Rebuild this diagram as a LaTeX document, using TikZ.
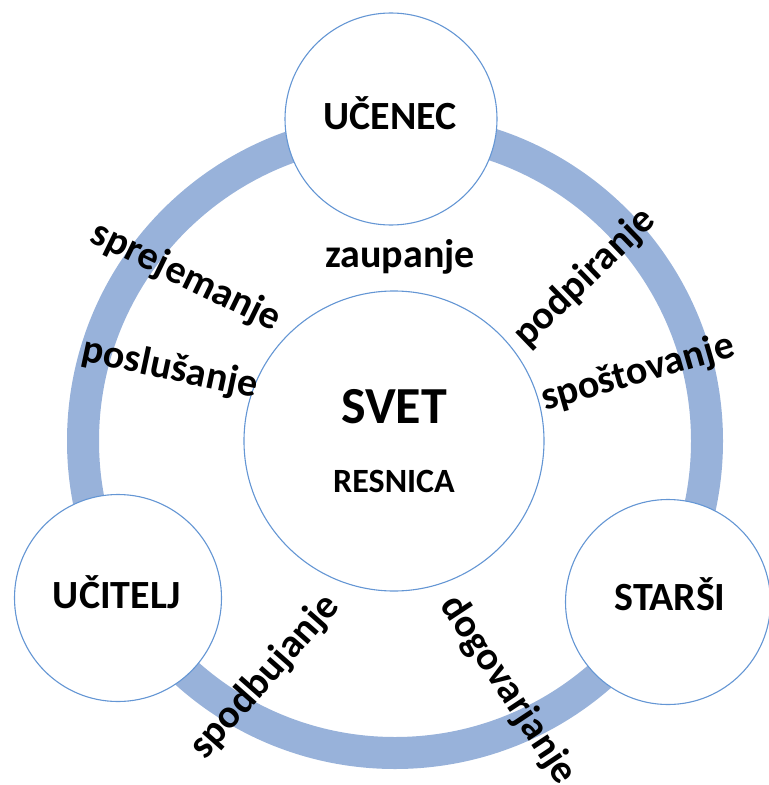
\documentclass[tikz,border=0pt]{standalone}
\usepackage{fontspec}
\setmainfont{Carlito}
\definecolor{band}{RGB}{152,178,218}
\definecolor{rim}{RGB}{100,150,212}
\tikzset{
  bubble/.style={circle, draw=rim, line width=1.1bp, fill=white, inner sep=0pt},
  word/.style={font=\bfseries\fontsize{40bp}{48bp}\selectfont, inner sep=0pt},
  bigword/.style={font=\bfseries\fontsize{52bp}{60bp}\selectfont, inner sep=0pt},
  smallword/.style={font=\bfseries\fontsize{34bp}{40bp}\selectfont, inner sep=0pt}
}
\begin{document}
\begin{tikzpicture}[x=1bp,y=-1bp]
\useasboundingbox (0,0) rectangle (769,785);
% ring
\coordinate (c) at (395,441);
\draw[band, line width=32bp] (c) circle[radius=312];
% bubbles
\node[bubble, minimum size=300bp] (svet) at (394,441) {};
\node[bubble, minimum size=212bp] (ucenec) at (391,119) {};
\node[bubble, minimum size=207bp] (ucitelj) at (118,598) {};
\node[bubble, minimum size=205bp] (starsi) at (668,602) {};
% titles
\node[word, anchor=base] (t1) at (390,129) {UČENEC};
\node[word, anchor=base] (t2) at (117,608) {UČITELJ};
\node[word, anchor=base] (t3) at (670,610) {STARŠI};
\node[bigword, anchor=base] (t4) at (394,423) {SVET};
\node[smallword, anchor=base] (t5) at (394,492) {RESNICA};
% relation labels
\node[word] (l1) at (400,257) {zaupanje};
\node[word, rotate=-26] (l2) at (186,277) {sprejemanje};
\node[word, rotate=-12] (l3) at (170,369) {poslušanje};
\node[word, rotate=44] (l4) at (585,278) {podpiranje};
\node[word, rotate=16] (l5) at (638,373) {spoštovanje};
\node[word, rotate=48.5] (l6) at (265,677) {spodbujanje};
\node[word, rotate=-56.5] (l7) at (508,690) {dogovarjanje};
\end{tikzpicture}
\end{document}
